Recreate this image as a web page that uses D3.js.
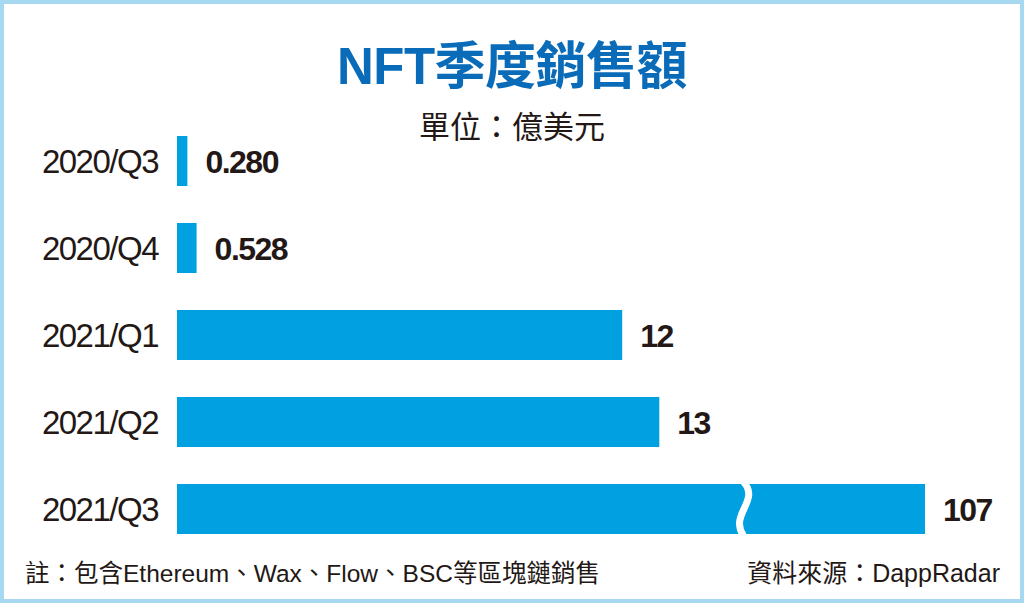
<!DOCTYPE html>
<html><head><meta charset="utf-8">
<script src="https://cdn.jsdelivr.net/npm/d3@7"></script>
<style>
html,body{margin:0;padding:0;background:#fff;}
svg{display:block;}
</style></head>
<body>
<svg id="c" width="1024" height="603"></svg>
<script>
const categories = ["2020/Q3","2020/Q4","2021/Q1","2021/Q2","2021/Q3"];
const values = [0.280, 0.528, 12, 13, 107];
const valueLabels = ["0.280","0.528","12","13","107"];
const breakValue = 15.3;
const title = "NFT季度銷售額";
const unitText = "單位：億美元";
const noteText = "註：包含Ethereum、Wax、Flow、BSC等區塊鏈銷售";
const sourceText = "資料來源：DappRadar";

const W = 1024, H = 603;
const svg = d3.select("#c");
const font = "'Liberation Sans','Noto Sans CJK TC',sans-serif";
const ink = "#231815";
const barColor = "#00a0e1";

// border
svg.append("rect").attr("x",2).attr("y",2).attr("width",W-4).attr("height",H-4)
  .attr("fill","#fff").attr("stroke","#a6d8f2").attr("stroke-width",4);

// title
svg.append("text").attr("x",512).attr("y",84).attr("text-anchor","middle")
  .attr("font-family",font).attr("font-weight","bold").attr("font-size",51)
  .attr("fill","#0a6cb8").attr("letter-spacing",-0.5).text(title);

svg.append("text").attr("x",512).attr("y",138).attr("text-anchor","middle")
  .attr("font-family",font).attr("font-size",31).attr("fill",ink).text(unitText);

const x0 = 177;
const x = d3.scaleLinear().domain([0, breakValue, 107]).range([x0, x0 + breakValue*37.1, 925]);
const y = d3.scaleBand().domain(categories).range([117.5, 552.5]).paddingInner(0.425).paddingOuter(0.2125);

const g = svg.append("g");
g.selectAll("rect.bar").data(categories).join("rect").attr("class","bar")
  .attr("x", x(0)).attr("y", d => y(d))
  .attr("width", (d,i) => x(values[i]) - x(0))
  .attr("height", y.bandwidth()).attr("fill", barColor);

// break wave
categories.forEach((c,i) => {
  if (values[i] > breakValue) {
    const bx = x(breakValue), top = y(c) - 2, h = y.bandwidth() + 4;
    const p = d3.path();
    p.moveTo(bx - 1, top);
    p.bezierCurveTo(bx + 16, top + h*0.35, bx - 16, top + h*0.6, bx - 1, top + h);
    g.append("path").attr("d", p.toString()).attr("fill","none")
      .attr("stroke","#fff").attr("stroke-width",7);
  }
});

// category labels
g.selectAll("text.cat").data(categories).join("text").attr("class","cat")
  .attr("x", 158).attr("y", d => y(d) + y.bandwidth()/2).attr("dy","0.36em")
  .attr("text-anchor","end").attr("font-family",font).attr("font-size",33)
  .attr("letter-spacing",-1.5).attr("fill",ink).text(d => d);

// value labels
g.selectAll("text.val").data(categories).join("text").attr("class","val")
  .attr("x", (d,i) => x(values[i]) + 18).attr("y", d => y(d) + y.bandwidth()/2).attr("dy","0.36em")
  .attr("font-family",font).attr("font-weight","bold").attr("font-size",32)
  .attr("letter-spacing",-1.5).attr("fill",ink).text((d,i) => valueLabels[i]);

// footer
svg.append("text").attr("x",25).attr("y",582).attr("font-family",font)
  .attr("font-size",24.5).attr("fill",ink).text(noteText);
svg.append("text").attr("x",1000).attr("y",582).attr("text-anchor","end").attr("font-family",font)
  .attr("font-size",25).attr("fill",ink).text(sourceText);
</script>
</body></html>
